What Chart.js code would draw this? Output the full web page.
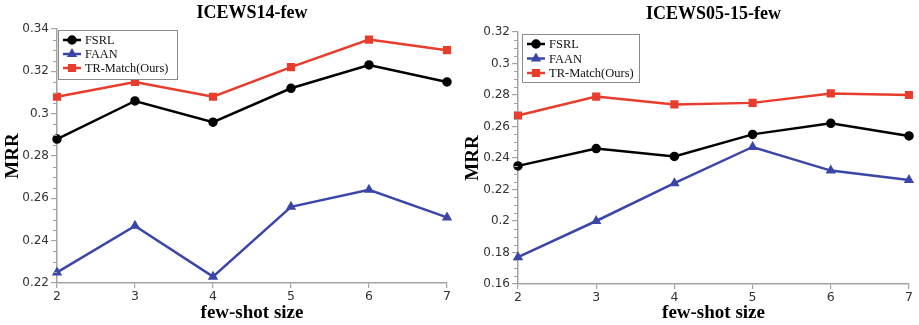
<!DOCTYPE html>
<html>
<head>
<meta charset="utf-8">
<script src="https://cdn.jsdelivr.net/npm/chart.js@4.4.0/dist/chart.umd.min.js"></script>
<style>
  html, body { margin: 0; padding: 0; background: #fff; }
  #wrap { position: relative; width: 919px; height: 325px; }
  .box { position: absolute; top: 0; height: 325px; }
  #boxL { left: 0; width: 460px; }
  #boxR { left: 460px; width: 459px; }
</style>
</head>
<body>
<div id="wrap">
  <div class="box" id="boxL"><canvas id="chartL"></canvas></div>
  <div class="box" id="boxR"><canvas id="chartR"></canvas></div>
</div>
<script>
/* ── Data ─────────────────────────────────────────────────────────── */
const shotSizes = ['2', '3', '4', '5', '6', '7'];
const seriesNames = ['FSRL', 'FAAN', 'TR-Match(Ours)'];

const icews14Fsrl    = [0.288, 0.306, 0.296, 0.312, 0.323, 0.315];
const icews14Faan    = [0.225, 0.247, 0.223, 0.256, 0.264, 0.251];
const icews14TrMatch = [0.308, 0.315, 0.308, 0.322, 0.335, 0.330];

const icews0515Fsrl    = [0.235, 0.246, 0.241, 0.255, 0.262, 0.254];
const icews0515Faan    = [0.177, 0.200, 0.224, 0.247, 0.232, 0.226];
const icews0515TrMatch = [0.267, 0.279, 0.274, 0.275, 0.281, 0.280];

/* ── Styles ───────────────────────────────────────────────────────── */
const COLORS = ['#000000', '#3a46a8', '#e83c2c'];
const MARKERS = ['circle', 'triangle', 'rect'];
const RADII = [3.5, 3.5, 4];
const AXIS_GREY = '#a3a3a3';
const SERIF = '"Liberation Serif", "Times New Roman", serif';
const SANS = '"DejaVu Sans", Verdana, sans-serif';

/* ── Plugin: judul, minor tick, legenda berbingkai ───────────────── */
const extras = {
  id: 'extras',
  afterDraw(chart, args, opts) {
    const c = chart.ctx, a = chart.chartArea, y = chart.scales.y;
    c.save();
    // judul
    c.fillStyle = '#000';
    c.font = 'bold 18px ' + SERIF;
    c.textAlign = 'center';
    c.textBaseline = 'middle';
    c.fillText(opts.title, (a.left + a.right) / 2, opts.titleY);

    // minor ticks sumbu y
    c.strokeStyle = AXIS_GREY;
    c.lineWidth = 1;
    const minor = opts.major / 4;
    const n = Math.round((y.max - y.min) / minor);
    for (let i = 0; i <= n; i++) {
      if (i % 4 === 0) continue;
      const py = Math.round(y.getPixelForValue(y.min + i * minor)) + 0.5;
      c.beginPath();
      c.moveTo(a.left - 4, py);
      c.lineTo(a.left, py);
      c.stroke();
    }

    // legenda
    const L = opts.legend;
    c.fillStyle = '#fff';
    c.fillRect(L.x, L.y, L.w, L.h);
    c.strokeStyle = '#8a8a8a';
    c.lineWidth = 1;
    c.strokeRect(L.x + 0.5, L.y + 0.5, L.w, L.h);
    c.font = L.font + 'px ' + SERIF;
    c.textAlign = 'left';
    chart.data.datasets.forEach((ds, i) => {
      const ry = L.y + L.first + i * L.gap;
      c.strokeStyle = ds.borderColor;
      c.lineWidth = 2.5;
      c.beginPath();
      c.moveTo(L.x + 5, ry);
      c.lineTo(L.x + 23, ry);
      c.stroke();
      Chart.helpers.drawPoint(c, {
        pointStyle: ds.pointStyle, radius: ds.pointRadius, borderWidth: 1
      }, L.x + 14, ry);
      c.fillStyle = ds.borderColor;
      c.fill();
      c.fillStyle = '#111';
      c.fillText(ds.label, L.x + 27, ry + 1);
    });
    c.restore();
  }
};

/* ── Fungsi pembuat chart ─────────────────────────────────────────── */
function makeChart(id, cfg) {
  const values = [cfg.fsrl, cfg.faan, cfg.trm];
  const datasets = values.map((v, i) => ({
    label: seriesNames[i],
    data: v,
    borderColor: COLORS[i],
    backgroundColor: COLORS[i],
    pointBackgroundColor: COLORS[i],
    pointBorderColor: COLORS[i],
    pointStyle: MARKERS[i],
    pointRadius: RADII[i],
    borderWidth: 2.5,
    tension: 0,
    fill: false
  }));

  return new Chart(document.getElementById(id), {
    type: 'line',
    data: { labels: shotSizes, datasets },
    options: {
      responsive: true,
      maintainAspectRatio: false,
      animation: false,
      layout: { padding: { top: cfg.top, right: cfg.right, left: 0, bottom: 0 } },
      plugins: {
        legend: { display: false },
        tooltip: { enabled: false },
        extras: { title: cfg.title, titleY: cfg.titleY, major: cfg.step, legend: cfg.legend }
      },
      scales: {
        x: {
          type: 'category',
          offset: false,
          grid: { display: true, drawOnChartArea: false, drawTicks: true, tickLength: 5, color: AXIS_GREY, lineWidth: 1.2 },
          border: { display: true, color: AXIS_GREY, width: 1.5 },
          ticks: { color: '#333', font: { family: SANS, size: 12.5 }, padding: 1, maxRotation: 0 },
          title: { display: true, text: 'few-shot size', color: '#000', font: { family: SERIF, size: 19, weight: 'bold' }, padding: { top: 0, bottom: 1 } },
          afterFit(s) { s.height = cfg.xh; }
        },
        y: {
          min: cfg.min,
          max: cfg.max,
          grid: { display: true, drawOnChartArea: false, drawTicks: true, tickLength: 6, color: AXIS_GREY, lineWidth: 1.2 },
          border: { display: true, color: AXIS_GREY, width: 1.5 },
          ticks: {
            stepSize: cfg.step,
            color: '#333',
            font: { family: SANS, size: 12 },
            padding: 2,
            callback: v => String(parseFloat(v.toFixed(3)))
          },
          title: { display: true, text: 'MRR', color: '#000', font: { family: SERIF, size: 19, weight: 'bold' }, padding: { top: 2, bottom: 0 } },
          afterFit(s) { s.width = cfg.yw; }
        }
      }
    },
    plugins: [extras]
  });
}

/* ── Eksekusi ─────────────────────────────────────────────────────── */
makeChart('chartL', {
  title: 'ICEWS14-few', titleY: 13,
  fsrl: icews14Fsrl, faan: icews14Faan, trm: icews14TrMatch,
  min: 0.22, max: 0.34, step: 0.02,
  top: 29, right: 13, xh: 42, yw: 57,
  legend: { x: 58, y: 30, w: 119, h: 49, first: 10, gap: 14, font: 12.3 }
});

makeChart('chartR', {
  title: 'ICEWS05-15-few', titleY: 14,
  fsrl: icews0515Fsrl, faan: icews0515Faan, trm: icews0515TrMatch,
  min: 0.16, max: 0.32, step: 0.02,
  top: 32, right: 10, xh: 41, yw: 58,
  legend: { x: 62, y: 34, w: 117, h: 48, first: 10, gap: 14.5, font: 12.5 }
});
</script>
</body>
</html>
